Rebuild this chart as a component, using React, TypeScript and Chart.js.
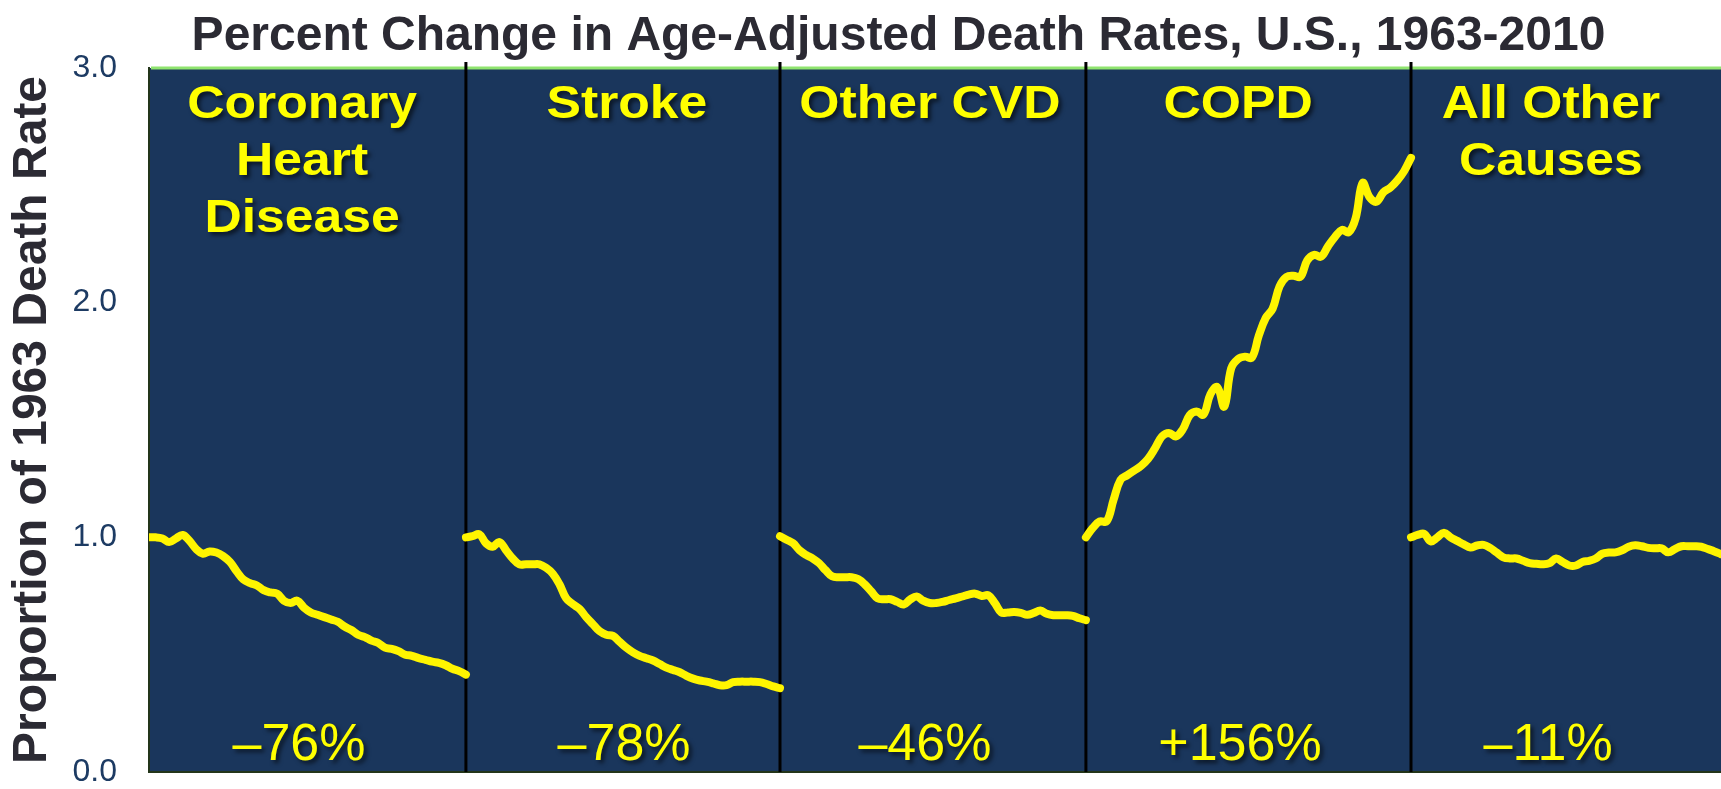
import React, { useEffect, useRef } from 'react';
import { Chart, registerables } from 'chart.js';

Chart.register(...registerables);

// ---------- data ----------
const years = [
  1963, 1964, 1965, 1966, 1967, 1968, 1969, 1970, 1971, 1972, 1973, 1974,
  1975, 1976, 1977, 1978, 1979, 1980, 1981, 1982, 1983, 1984, 1985, 1986,
  1987, 1988, 1989, 1990, 1991, 1992, 1993, 1994, 1995, 1996, 1997, 1998,
  1999, 2000, 2001, 2002, 2003, 2004, 2005, 2006, 2007, 2008, 2009, 2010,
];

const coronaryValues = [
  1.0, 1.0, 0.995, 0.98, 0.995, 1.01, 0.985, 0.95, 0.93, 0.94, 0.935, 0.92,
  0.895, 0.855, 0.82, 0.805, 0.795, 0.775, 0.765, 0.76, 0.73, 0.72, 0.73, 0.7,
  0.68, 0.67, 0.66, 0.65, 0.64, 0.62, 0.605, 0.585, 0.575, 0.56, 0.55, 0.53,
  0.525, 0.515, 0.5, 0.495, 0.485, 0.478, 0.47, 0.465, 0.455, 0.44, 0.43, 0.415,
];

const strokeValues = [
  1.0, 1.005, 1.013, 0.975, 0.96, 0.98, 0.945, 0.91, 0.885, 0.885, 0.885, 0.885,
  0.87, 0.845, 0.8, 0.74, 0.715, 0.695, 0.66, 0.63, 0.6, 0.585, 0.58, 0.555,
  0.53, 0.51, 0.495, 0.485, 0.475, 0.46, 0.445, 0.435, 0.425, 0.41, 0.398, 0.39,
  0.385, 0.378, 0.37, 0.37, 0.383, 0.385, 0.385, 0.385, 0.383, 0.375, 0.365, 0.357,
];

const otherCvdValues = [
  1.005, 0.99, 0.975, 0.945, 0.925, 0.91, 0.89, 0.86, 0.834, 0.83, 0.83, 0.83,
  0.822, 0.8, 0.77, 0.74, 0.736, 0.736, 0.725, 0.714, 0.735, 0.748, 0.73, 0.72,
  0.72, 0.725, 0.733, 0.74, 0.748, 0.756, 0.76, 0.75, 0.753, 0.72, 0.68, 0.68,
  0.682, 0.678, 0.67, 0.678, 0.688, 0.674, 0.668, 0.668, 0.668, 0.665, 0.655, 0.647,
];

const copdValues = [
  1.0, 1.04, 1.068, 1.068, 1.16, 1.245, 1.265, 1.285, 1.305, 1.335, 1.38, 1.43,
  1.445, 1.43, 1.46, 1.52, 1.536, 1.523, 1.61, 1.64, 1.557, 1.72, 1.76, 1.77,
  1.766, 1.86, 1.935, 1.975, 2.07, 2.11, 2.115, 2.11, 2.18, 2.204, 2.196, 2.24,
  2.28, 2.31, 2.3, 2.36, 2.51, 2.45, 2.43, 2.47, 2.49, 2.52, 2.56, 2.617,
];

const allOtherValues = [
  1.0, 1.01, 1.015, 0.983, 1.0, 1.02, 1.0, 0.985, 0.97, 0.957, 0.965, 0.968,
  0.955, 0.935, 0.915, 0.91, 0.91, 0.9, 0.89, 0.887, 0.885, 0.89, 0.91, 0.895,
  0.88, 0.88, 0.895, 0.9, 0.91, 0.93, 0.935, 0.936, 0.945, 0.96, 0.966, 0.962,
  0.955, 0.953, 0.953, 0.936, 0.95, 0.962, 0.962, 0.962, 0.96, 0.95, 0.94, 0.928,
];

const panelTitles = [
  ['Coronary', 'Heart', 'Disease'],
  ['Stroke'],
  ['Other CVD'],
  ['COPD'],
  ['All Other', 'Causes'],
];

const panelChanges = ['\u201376%', '\u201378%', '\u201346%', '+156%', '\u201311%'];

const chartTitle = 'Percent Change in Age-Adjusted Death Rates, U.S., 1963-2010';
const yAxisTitle = 'Proportion of 1963 Death Rate';

// ---------- layout / style ----------
const FONT = '"Liberation Sans", Arial, Helvetica, sans-serif';
const panelEdges = [0, 1.008, 2.007, 2.98, 4.014, 5];
const labelCenters = [0.487, 1.52, 2.484, 3.464, 4.459];
const changeCenters = [0.477, 1.511, 2.468, 3.47, 4.45];
const YELLOW = '#fff500';
const BG = '#1a365c';

const decorPlugin = {
  id: 'decor',
  beforeDraw(chart: any) {
    const { ctx, chartArea: a } = chart;
    ctx.save();
    ctx.fillStyle = '#ffffff';
    ctx.fillRect(0, 0, chart.width, chart.height);
    ctx.fillStyle = BG;
    ctx.fillRect(a.left, a.top, a.right - a.left, a.bottom - a.top);
    // title
    ctx.fillStyle = '#2b2a33';
    ctx.font = `bold 48px ${FONT}`;
    ctx.textAlign = 'center';
    ctx.textBaseline = 'alphabetic';
    ctx.fillText(chartTitle, chart.width / 2 + 38, a.top - 18);
    ctx.restore();
  },
  beforeDatasetsDraw(chart: any) {
    const { ctx, chartArea: a, scales } = chart;
    const x = scales.x;
    ctx.save();
    // bottom border
    ctx.strokeStyle = '#23351a';
    ctx.lineWidth = 2;
    ctx.beginPath();
    ctx.moveTo(a.left, a.bottom);
    ctx.lineTo(a.right, a.bottom);
    ctx.stroke();
    // green top line
    ctx.strokeStyle = '#8fe46f';
    ctx.lineWidth = 3;
    ctx.beginPath();
    ctx.moveTo(a.left + 2, a.top);
    ctx.lineTo(a.right, a.top);
    ctx.stroke();
    // panel dividers
    ctx.strokeStyle = '#000000';
    ctx.lineWidth = 3;
    for (let i = 1; i < panelEdges.length - 1; i++) {
      const px = x.getPixelForValue(panelEdges[i]);
      ctx.beginPath();
      ctx.moveTo(px, a.top - 6);
      ctx.lineTo(px, a.bottom);
      ctx.stroke();
    }
    ctx.restore();
  },
  afterDatasetsDraw(chart: any) {
    const { ctx, chartArea: a, scales } = chart;
    const x = scales.x;
    ctx.save();
    ctx.shadowColor = 'rgba(0,0,0,0.6)';
    ctx.shadowBlur = 4;
    ctx.shadowOffsetX = 3;
    ctx.shadowOffsetY = 3;
    ctx.fillStyle = '#ffff00';
    ctx.textAlign = 'center';
    ctx.textBaseline = 'alphabetic';
    panelTitles.forEach((lines, p) => {
      const cx = x.getPixelForValue(labelCenters[p]);
      lines.forEach((line, li) => {
        ctx.save();
        ctx.translate(cx, a.top + 50 + li * 57);
        ctx.scale(1.1, 1);
        ctx.font = `bold 47px ${FONT}`;
        ctx.fillText(line, 0, 0);
        ctx.restore();
      });
    });
    ctx.font = `52px ${FONT}`;
    panelChanges.forEach((txt, p) => {
      const cx = x.getPixelForValue(changeCenters[p]);
      ctx.fillText(txt, cx, a.bottom - 12);
    });
    ctx.restore();
  },
};

export default function App() {
  const ref = useRef<HTMLCanvasElement>(null);

  useEffect(() => {
    const canvas = ref.current;
    if (!canvas) return;
    const series = [coronaryValues, strokeValues, otherCvdValues, copdValues, allOtherValues];
    const y0 = years[0];
    const y1 = years[years.length - 1];
    const datasets = series.map((vals, p) => ({
      label: panelTitles[p].join(' '),
      data: vals.map((v, i) => ({
        x: panelEdges[p] + ((panelEdges[p + 1] - panelEdges[p]) * (years[i] - y0)) / (y1 - y0),
        y: v,
      })),
      borderColor: YELLOW,
      backgroundColor: YELLOW,
      borderWidth: 8,
      pointRadius: 0,
      pointHoverRadius: 0,
      tension: 0.4,
      borderCapStyle: 'round' as const,
      borderJoinStyle: 'round' as const,
      fill: false,
    }));

    const chart = new Chart(canvas, {
      type: 'line',
      data: { datasets },
      plugins: [decorPlugin],
      options: {
        animation: false,
        responsive: false,
        devicePixelRatio: 1,
        layout: { padding: { top: 68, bottom: 17, left: 0, right: 0 } },
        plugins: {
          legend: { display: false },
          tooltip: { enabled: false },
          title: { display: false },
        },
        events: [],
        scales: {
          x: {
            type: 'linear',
            min: 0,
            max: 5,
            display: false,
          },
          y: {
            type: 'linear',
            min: 0,
            max: 3,
            afterFit: (scale: any) => {
              scale.width = 149;
            },
            ticks: {
              stepSize: 1,
              padding: 0,
              color: '#1d3b63',
              font: { family: FONT, size: 32, lineHeight: 1 },
              callback: (v: any) => Number(v).toFixed(1),
            },
            grid: {
              display: true,
              drawOnChartArea: false,
              drawTicks: true,
              tickLength: 32,
              color: 'rgba(0,0,0,0)',
            },
            border: { display: true, color: '#23351a', width: 2 },
            title: {
              display: true,
              text: yAxisTitle,
              color: '#2b2a33',
              font: { family: FONT, size: 48, weight: 'bold' },
              padding: { top: 4, bottom: 0 },
            },
          },
        },
      },
    });
    return () => chart.destroy();
  }, []);

  return (
    <canvas
      ref={ref}
      width={1721}
      height={789}
      style={{ position: 'fixed', left: 0, top: 0, width: '1721px', height: '789px' }}
    />
  );
}
